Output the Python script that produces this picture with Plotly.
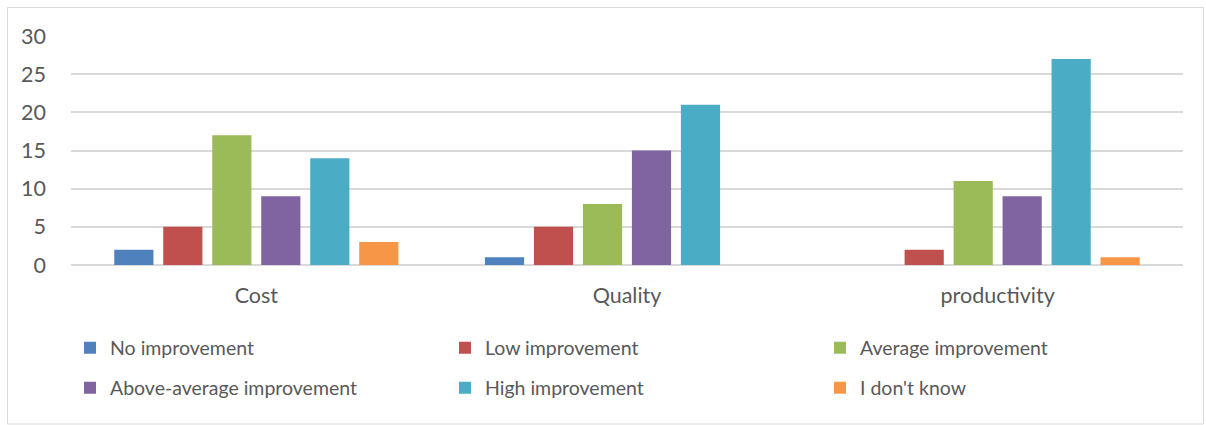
import plotly.graph_objects as go

categories = ["Cost", "Quality", "productivity"]
series_names = ["No improvement", "Low improvement", "Average improvement",
                "Above-average improvement", "High improvement", "I don't know"]
no_improvement = [2, 1, 0]
low_improvement = [5, 5, 2]
average_improvement = [17, 8, 11]
above_average_improvement = [9, 15, 9]
high_improvement = [14, 21, 27]
dont_know = [3, 0, 1]
colors = ["#4F81BD", "#C0504D", "#9BBB59", "#8064A2", "#4BACC6", "#F79646"]
y_ticks = [0, 5, 10, 15, 20, 25, 30]

values = [no_improvement, low_improvement, average_improvement,
          above_average_improvement, high_improvement, dont_know]

FONT = "Lato"
TXT = "#595959"

fig = go.Figure()
for i, (name, vals, col) in enumerate(zip(series_names, values, colors)):
    fig.add_trace(go.Bar(
        x=categories, y=vals, name=name,
        marker=dict(color=col, line=dict(width=0)),
        legend="legend" if i < 3 else "legend2",
    ))

W, H = 1206, 425
L, R, T, B = 71, 23, 36, 160
pw, ph = W - L - R, H - T - B

def px(x):
    return (x - L) / pw

def py(y):
    return (H - B - y) / ph

leg_common = dict(orientation="h", xanchor="left", yanchor="middle",
                  entrywidth=330, entrywidthmode="pixels", itemwidth=30,
                  font=dict(family=FONT, size=19.5, color=TXT),
                  bgcolor="rgba(0,0,0,0)")

fig.update_layout(
    width=W, height=H,
    margin=dict(l=L, r=R, t=T, b=B, autoexpand=False),
    paper_bgcolor="white", plot_bgcolor="white",
    barmode="group", bargap=0.207, bargroupgap=0.2,
    font=dict(family=FONT, size=19.5, color=TXT),
    xaxis=dict(showgrid=False, showline=False, ticks="", ticklabelstandoff=15,
               tickfont=dict(family=FONT, size=21.5, color=TXT)),
    yaxis=dict(range=[0, 30], tickvals=y_ticks, showgrid=True,
               gridcolor="#D9D9D9", gridwidth=1.5, zeroline=True,
               zerolinecolor="#D9D9D9", zerolinewidth=1.5,
               ticks="", ticklabelstandoff=24,
               tickfont=dict(family=FONT, size=21.5, color=TXT)),
    legend=dict(x=px(70), y=py(348), **leg_common),
    legend2=dict(x=px(70), y=py(388), **leg_common),
    shapes=[dict(type="rect", xref="paper", yref="paper",
                 x0=px(7.5), x1=px(1203.5), y0=py(424), y1=py(7.5),
                 line=dict(color="#D9D9D9", width=1), fillcolor="rgba(0,0,0,0)",
                 layer="below")],
)

fig.write_html("out.html", config={"displayModeBar": False},
               post_script="document.body.style.margin='0';")
